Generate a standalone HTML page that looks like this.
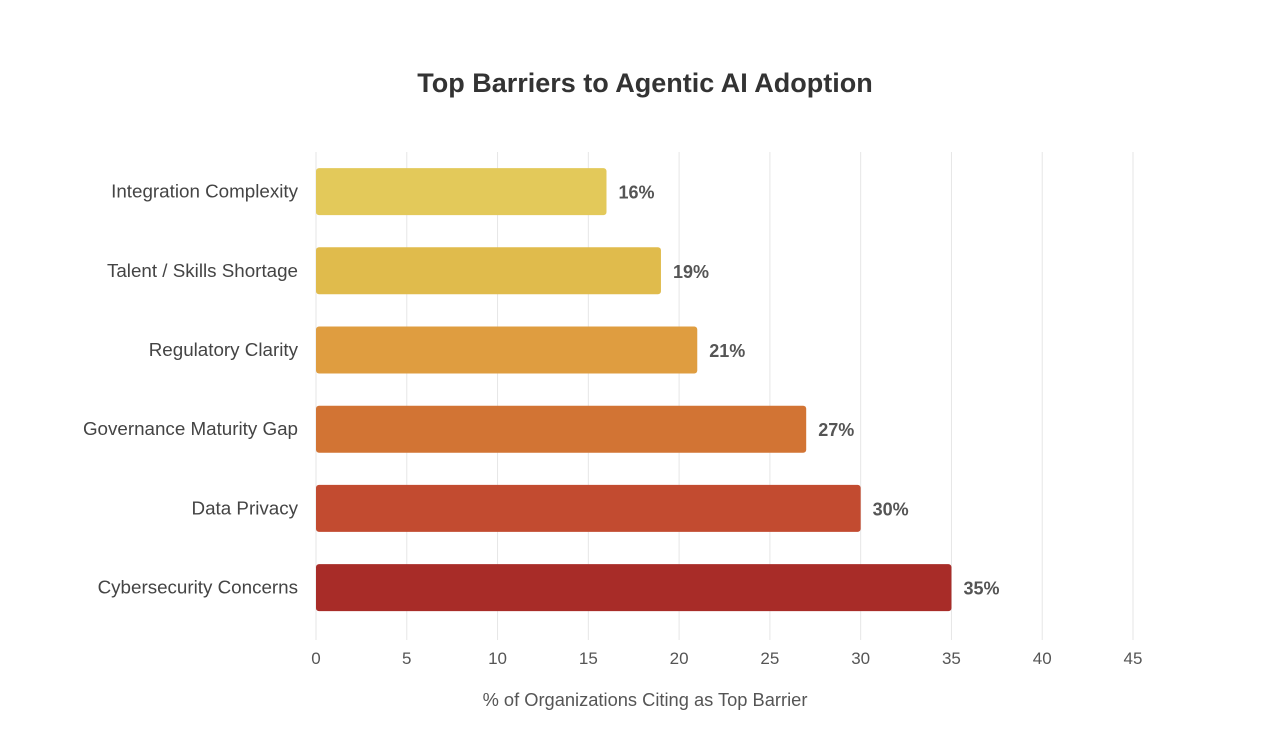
<!DOCTYPE html>
<html><head><meta charset="utf-8">
<style>
html,body{margin:0;padding:0;background:#fff;}
svg{display:block;}
</style></head>
<body>
<svg id="chart" width="1286" height="754" xmlns="http://www.w3.org/2000/svg">
<text x="645" y="92" text-anchor="middle" font-family="Liberation Sans, sans-serif" font-size="27" font-weight="bold" fill="#333">Top Barriers to Agentic AI Adoption</text>
<text x="645" y="706" text-anchor="middle" font-family="Liberation Sans, sans-serif" font-size="18.3" fill="#555">% of Organizations Citing as Top Barrier</text>
<g id="grid"></g><g id="bars"></g><g id="labels"></g>
</svg>
<script>
const categories = ["Integration Complexity","Talent / Skills Shortage","Regulatory Clarity","Governance Maturity Gap","Data Privacy","Cybersecurity Concerns"];
const values = [16,19,21,27,30,35];
const colors = ["#E3C95A","#E0BB4C","#DF9D40","#D27434","#C24B30","#A82C28"];
const ticks = [0,5,10,15,20,25,30,35,40,45];
const NS="http://www.w3.org/2000/svg";
const x0=316, x1=1133, xmax=45;
const xs=v=>x0+(x1-x0)*v/xmax;
const yTop=152, band=79.2, bh=47;
const yc=i=>yTop+band*(i+0.5);
function mk(tag,attrs,parent){const e=document.createElementNS(NS,tag);for(const k in attrs)e.setAttribute(k,attrs[k]);parent.appendChild(e);return e;}
const grid=document.getElementById('grid'),bars=document.getElementById('bars'),labels=document.getElementById('labels');
ticks.forEach(t=>{
  const l=mk('line',{x1:xs(t),x2:xs(t),y1:152,y2:640,stroke:'#e6e6e6','stroke-width':1},grid);
  
  
  const tx=mk('text',{x:xs(t),y:664,'text-anchor':'middle','font-family':'Liberation Sans, sans-serif','font-size':17,fill:'#555'},labels);
  tx.textContent=t;
  
  
});
categories.forEach((c,i)=>{
  const r=mk('rect',{x:x0,y:yc(i)-bh/2,width:xs(values[i])-x0,height:bh,rx:3,fill:colors[i]},bars);
  
  
  const lab=mk('text',{x:298,y:yc(i)+6,'text-anchor':'end','font-family':'Liberation Sans, sans-serif','font-size':18.8,fill:'#444'},labels);
  lab.textContent=c;
  
  
  const v=mk('text',{x:xs(values[i])+12,y:yc(i)+7,'font-family':'Liberation Sans, sans-serif','font-size':18,'font-weight':'bold',fill:'#555'},labels);
  v.textContent=values[i]+'%';
  
  
});
</script>
</body></html>
